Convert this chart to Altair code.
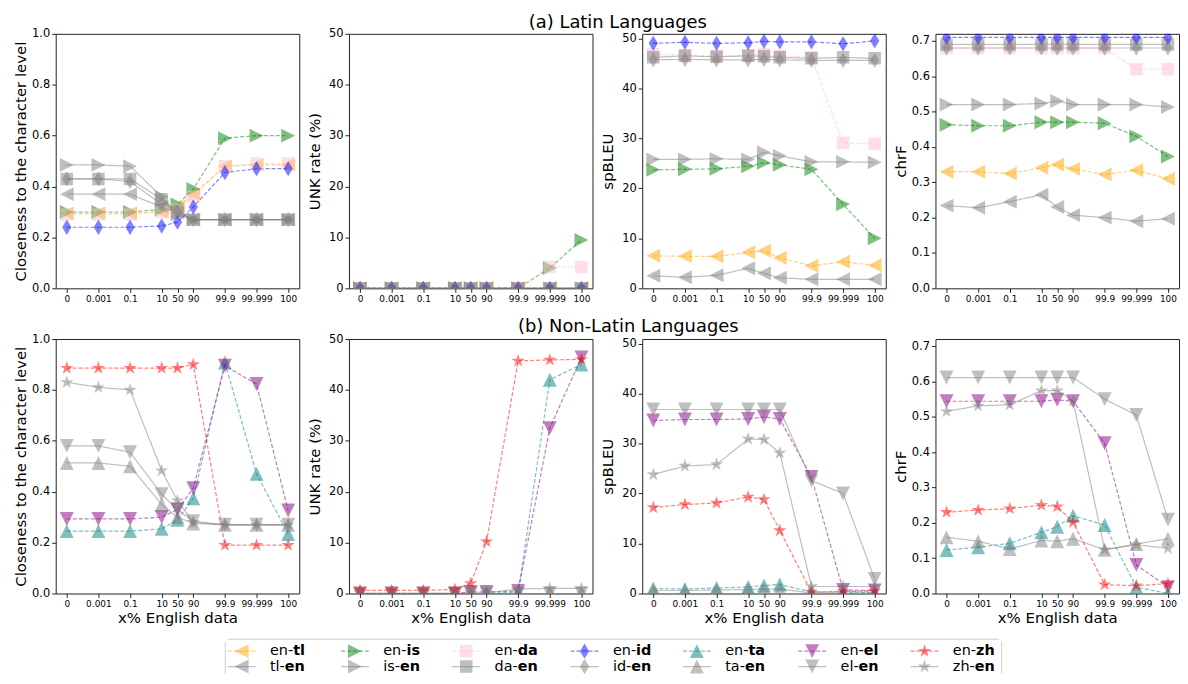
import math
import altair as alt
import pandas as pd

# ---------------- x axis ----------------
X_LABELS = ["0", "0.001", "0.1", "10", "50", "90", "99.9", "99.999", "100"]
X_POS = [0, 1, 2, 3, 3.5, 4, 5, 6, 7]

# ---------------- (a) Latin: closeness ----------------
a_close_en_tl = [0.295, 0.295, 0.295, 0.30, 0.32, 0.37, 0.48, 0.485, 0.485]
a_close_tl_en = [0.37, 0.37, 0.37, 0.32, 0.30, 0.27, 0.27, 0.27, 0.27]
a_close_en_is = [0.30, 0.30, 0.30, 0.31, 0.33, 0.39, 0.59, 0.60, 0.60]
a_close_is_en = [0.485, 0.485, 0.48, 0.36, 0.29, 0.27, 0.27, 0.27, 0.27]
a_close_en_da = [0.29, 0.29, 0.29, 0.30, 0.31, 0.36, 0.48, 0.49, 0.49]
a_close_da_en = [0.43, 0.43, 0.43, 0.35, 0.30, 0.27, 0.27, 0.27, 0.27]
a_close_en_id = [0.24, 0.24, 0.24, 0.245, 0.26, 0.32, 0.455, 0.47, 0.47]
a_close_id_en = [0.43, 0.43, 0.42, 0.33, 0.30, 0.27, 0.27, 0.27, 0.27]

# ---------------- (a) Latin: UNK rate ----------------
a_unk_en_tl = [0, 0, 0, 0, 0, 0, 0, 0, 0]
a_unk_tl_en = [0, 0, 0, 0, 0, 0, 0, 0, 0]
a_unk_en_is = [0, 0, 0, 0, 0, 0, 0, 4.0, 9.5]
a_unk_is_en = [0, 0, 0, 0, 0, 0, 0, 0, 0]
a_unk_en_da = [0, 0, 0, 0, 0, 0, 0, 4.2, 4.2]
a_unk_da_en = [0, 0, 0, 0, 0, 0, 0, 0, 0]
a_unk_en_id = [0, 0, 0, 0, 0, 0, 0, 0, 0]
a_unk_id_en = [0, 0, 0, 0, 0, 0, 0, 0, 0]

# ---------------- (a) Latin: spBLEU ----------------
a_bleu_en_tl = [6.5, 6.4, 6.4, 7.2, 7.5, 6.1, 4.5, 5.3, 4.6]
a_bleu_tl_en = [2.5, 2.2, 2.6, 4.0, 3.0, 2.1, 1.8, 1.8, 1.8]
a_bleu_en_is = [23.7, 23.8, 23.9, 24.4, 25.1, 24.7, 23.8, 16.8, 10.0]
a_bleu_is_en = [25.8, 25.8, 25.9, 25.8, 27.2, 26.5, 25.3, 25.3, 25.2]
a_bleu_en_da = [46.8, 46.6, 46.5, 46.6, 46.8, 46.5, 46.2, 29.1, 28.9]
a_bleu_da_en = [46.2, 46.5, 46.3, 46.5, 46.4, 46.2, 46.0, 46.2, 46.0]
a_bleu_en_id = [49.0, 49.2, 49.0, 49.1, 49.4, 49.3, 49.3, 48.9, 49.5]
a_bleu_id_en = [45.7, 45.8, 45.7, 45.7, 45.8, 45.7, 45.6, 45.6, 45.6]

# ---------------- (a) Latin: chrF ----------------
a_chrf_en_tl = [0.33, 0.33, 0.325, 0.341, 0.35, 0.338, 0.322, 0.334, 0.31]
a_chrf_tl_en = [0.234, 0.228, 0.245, 0.265, 0.23, 0.207, 0.2, 0.19, 0.197]
a_chrf_en_is = [0.463, 0.46, 0.46, 0.47, 0.47, 0.47, 0.467, 0.43, 0.373]
a_chrf_is_en = [0.52, 0.52, 0.52, 0.523, 0.53, 0.52, 0.52, 0.52, 0.513]
a_chrf_en_da = [0.68, 0.68, 0.68, 0.68, 0.68, 0.68, 0.68, 0.62, 0.62]
a_chrf_da_en = [0.69, 0.69, 0.69, 0.69, 0.69, 0.69, 0.69, 0.69, 0.69]
a_chrf_en_id = [0.71, 0.71, 0.71, 0.71, 0.71, 0.71, 0.71, 0.71, 0.71]
a_chrf_id_en = [0.68, 0.68, 0.68, 0.68, 0.68, 0.68, 0.68, 0.68, 0.68]

# ---------------- (b) Non-Latin: closeness ----------------
b_close_en_ta = [0.245, 0.245, 0.245, 0.254, 0.29, 0.374, 0.908, 0.47, 0.234]
b_close_ta_en = [0.513, 0.513, 0.50, 0.35, 0.30, 0.275, 0.27, 0.27, 0.27]
b_close_en_el = [0.293, 0.293, 0.293, 0.30, 0.33, 0.414, 0.895, 0.823, 0.326]
b_close_el_en = [0.58, 0.58, 0.555, 0.39, 0.33, 0.284, 0.27, 0.27, 0.27]
b_close_en_zh = [0.886, 0.886, 0.886, 0.886, 0.886, 0.90, 0.19, 0.19, 0.19]
b_close_zh_en = [0.83, 0.81, 0.80, 0.483, 0.365, 0.28, 0.27, 0.27, 0.27]

# ---------------- (b) Non-Latin: UNK rate ----------------
b_unk_en_ta = [0, 0, 0, 0, 0, 0, 0.3, 42.0, 45.0]
b_unk_ta_en = [0, 0, 0, 0, 0, 0, 0, 0, 0]
b_unk_en_el = [0, 0, 0, 0, 0.3, 0.3, 0.5, 32.5, 46.4]
b_unk_el_en = [0, 0, 0, 0, 0, 0, 0, 0, 0]
b_unk_en_zh = [0.6, 0.6, 0.6, 0.8, 2.0, 10.2, 45.7, 45.9, 46.0]
b_unk_zh_en = [0.1, 0.1, 0.1, 0.1, 0.1, 0.1, 0.9, 1.0, 1.0]

# ---------------- (b) Non-Latin: spBLEU ----------------
b_bleu_en_ta = [1.0, 0.9, 1.1, 1.3, 1.6, 1.8, 0.3, 0.3, 0.2]
b_bleu_ta_en = [0.6, 0.6, 0.7, 0.8, 0.9, 0.9, 0.1, 0.1, 0.1]
b_bleu_en_el = [34.6, 34.8, 34.8, 34.9, 35.3, 34.9, 23.3, 0.7, 0.6]
b_bleu_el_en = [36.8, 36.8, 36.8, 36.8, 36.8, 36.8, 22.6, 20.0, 2.9]
b_bleu_en_zh = [17.2, 17.8, 18.1, 19.3, 18.8, 12.6, 0.3, 0.4, 0.5]
b_bleu_zh_en = [23.8, 25.5, 25.8, 30.9, 30.8, 28.1, 1.4, 1.4, 1.4]

# ---------------- (b) Non-Latin: chrF ----------------
b_chrf_en_ta = [0.123, 0.131, 0.142, 0.173, 0.189, 0.22, 0.194, 0.018, 0.0]
b_chrf_ta_en = [0.159, 0.148, 0.126, 0.15, 0.148, 0.155, 0.124, 0.14, 0.155]
b_chrf_en_el = [0.544, 0.544, 0.544, 0.544, 0.548, 0.544, 0.425, 0.081, 0.018]
b_chrf_el_en = [0.611, 0.611, 0.611, 0.611, 0.611, 0.611, 0.55, 0.505, 0.209]
b_chrf_en_zh = [0.23, 0.236, 0.24, 0.25, 0.246, 0.202, 0.025, 0.022, 0.028]
b_chrf_zh_en = [0.515, 0.531, 0.534, 0.574, 0.574, 0.545, 0.124, 0.138, 0.128]

# ---------------- y axis ticks ----------------
TICKS_CLOSE = [0.0, 0.2, 0.4, 0.6, 0.8, 1.0]
TICKS_UNK = [0, 10, 20, 30, 40, 50]
TICKS_BLEU = [0, 10, 20, 30, 40, 50]
TICKS_CHRF = [0.0, 0.1, 0.2, 0.3, 0.4, 0.5, 0.6, 0.7]

TITLE_A = "(a) Latin Languages"
TITLE_B = "(b) Non-Latin Languages"
X_TITLE = "x% English data"

LATIN = ["tl", "is", "da", "id"]
NONLATIN = ["ta", "el", "zh"]
LANGS = LATIN + NONLATIN

PANEL_DATA = {
    "a_close": {"en-tl": a_close_en_tl, "tl-en": a_close_tl_en, "en-is": a_close_en_is, "is-en": a_close_is_en,
                "en-da": a_close_en_da, "da-en": a_close_da_en, "en-id": a_close_en_id, "id-en": a_close_id_en},
    "a_unk": {"en-tl": a_unk_en_tl, "tl-en": a_unk_tl_en, "en-is": a_unk_en_is, "is-en": a_unk_is_en,
              "en-da": a_unk_en_da, "da-en": a_unk_da_en, "en-id": a_unk_en_id, "id-en": a_unk_id_en},
    "a_bleu": {"en-tl": a_bleu_en_tl, "tl-en": a_bleu_tl_en, "en-is": a_bleu_en_is, "is-en": a_bleu_is_en,
               "en-da": a_bleu_en_da, "da-en": a_bleu_da_en, "en-id": a_bleu_en_id, "id-en": a_bleu_id_en},
    "a_chrf": {"en-tl": a_chrf_en_tl, "tl-en": a_chrf_tl_en, "en-is": a_chrf_en_is, "is-en": a_chrf_is_en,
               "en-da": a_chrf_en_da, "da-en": a_chrf_da_en, "en-id": a_chrf_en_id, "id-en": a_chrf_id_en},
    "b_close": {"en-ta": b_close_en_ta, "ta-en": b_close_ta_en, "en-el": b_close_en_el, "el-en": b_close_el_en,
                "en-zh": b_close_en_zh, "zh-en": b_close_zh_en},
    "b_unk": {"en-ta": b_unk_en_ta, "ta-en": b_unk_ta_en, "en-el": b_unk_en_el, "el-en": b_unk_el_en,
              "en-zh": b_unk_en_zh, "zh-en": b_unk_zh_en},
    "b_bleu": {"en-ta": b_bleu_en_ta, "ta-en": b_bleu_ta_en, "en-el": b_bleu_en_el, "el-en": b_bleu_el_en,
               "en-zh": b_bleu_en_zh, "zh-en": b_bleu_zh_en},
    "b_chrf": {"en-ta": b_chrf_en_ta, "ta-en": b_chrf_ta_en, "en-el": b_chrf_en_el, "el-en": b_chrf_el_en,
               "en-zh": b_chrf_en_zh, "zh-en": b_chrf_zh_en},
}

# ---------------- styles ----------------
LANG_COLOR = {"tl": "#FFA500", "is": "#008000", "da": "#FFC0CB", "id": "#0000FF",
              "ta": "#008080", "el": "#800080", "zh": "#FF0000"}
GRAY = "#808080"
FONT = "DejaVu Sans"


def star_path(n=5, inner=0.382):
    pts = []
    for k in range(2 * n):
        r = 1.0 if k % 2 == 0 else inner
        ang = math.radians(-90 + 36 * k)
        pts.append(f"{r * math.cos(ang):.3f},{r * math.sin(ang):.3f}")
    return "M" + "L".join(pts) + "Z"


LANG_SHAPE = {
    "tl": "M-1,0L1,-1L1,1Z",
    "is": "M1,0L-1,-1L-1,1Z",
    "da": "M-0.9,-0.9L0.9,-0.9L0.9,0.9L-0.9,0.9Z",
    "id": "M0,-1.1L0.66,0L0,1.1L-0.66,0Z",
    "ta": "M0,-1L1,1L-1,1Z",
    "el": "M0,1L1,-1L-1,-1Z",
    "zh": star_path(),
}
MARK_SIZE = 196

ALL_SERIES = []
for lg in LANGS:
    ALL_SERIES += [f"en-{lg}", f"{lg}-en"]


def lang_of(s):
    a, b = s.split("-")
    return b if a == "en" else a


color_scale = alt.Scale(domain=ALL_SERIES,
                        range=[LANG_COLOR[lang_of(s)] if s.startswith("en-") else GRAY for s in ALL_SERIES])
shape_scale = alt.Scale(domain=ALL_SERIES, range=[LANG_SHAPE[lang_of(s)] for s in ALL_SERIES])
dash_scale = alt.Scale(domain=ALL_SERIES, range=[[4, 2] if s.startswith("en-") else [1, 0] for s in ALL_SERIES])

rows = []
for pid, smap in PANEL_DATA.items():
    for s, vals in smap.items():
        for p, v in zip(X_POS, vals):
            rows.append({"panel": pid, "series": s, "pos": p, "value": v})
df = pd.DataFrame(rows)

lab_arr = []
for i in range(15):
    p = i / 2
    lab_arr.append(X_LABELS[X_POS.index(p)] if p in X_POS else "")
LABEL_EXPR = "[" + ",".join(f"'{s}'" for s in lab_arr) + "][round(datum.value*2)]"

PW, PH = 245, 256
PLOT_LEFT = 55  # page x of first plot area (origin for title / legend placement)


def panel(pid, ytitle, ydomain, yticks, yfmt, xtitle, title=None, title_x=0, title_y=0):
    d = df[df.panel == pid]
    x = alt.X("pos:Q", scale=alt.Scale(domain=[-0.35, 7.35], nice=False, zero=False),
              axis=alt.Axis(values=X_POS, labelExpr=LABEL_EXPR, title=xtitle, labelFontSize=9,
                            tickSize=4, labelPadding=2, titleFontSize=15, titlePadding=2.5,
                            labelOverlap=False, labelFlush=False, grid=False, domain=False,
                            tickColor="#222", labelColor="#000", titleColor="#000",
                            titleFontWeight="normal", labelFont=FONT, titleFont=FONT))
    y = alt.Y("value:Q", scale=alt.Scale(domain=ydomain, nice=False, zero=False),
              axis=alt.Axis(values=yticks, format=yfmt, title=ytitle, labelFontSize=11.5,
                            titleFontSize=15, titlePadding=3, minExtent=24, maxExtent=24,
                            tickSize=4, labelPadding=2, grid=False, domain=False,
                            tickColor="#222", labelColor="#000", titleColor="#000",
                            titleFontWeight="normal", labelFont=FONT, titleFont=FONT))
    color = alt.Color("series:N", scale=color_scale, legend=None)
    base = alt.Chart(d)
    lines = base.mark_line(opacity=0.5, strokeWidth=1.2, clip=True).encode(
        x=x, y=y, color=color,
        strokeDash=alt.StrokeDash("series:N", scale=dash_scale, legend=None))
    pts = base.mark_point(filled=True, opacity=0.5, strokeWidth=0, size=MARK_SIZE, clip=True).encode(
        x=x, y=y, color=color,
        shape=alt.Shape("series:N", scale=shape_scale, legend=None))
    layers = [lines, pts]
    if title:
        t = alt.Chart(pd.DataFrame({"t": [title]})).mark_text(
            align="center", baseline="alphabetic", fontSize=18, font=FONT, color="#000").encode(
            text="t:N", x=alt.value(title_x), y=alt.value(title_y))
        layers.append(t)
    return alt.layer(*layers).properties(width=PW, height=PH)


grid = alt.concat(
    panel("a_close", "Closeness to the character level", [0, 1], TICKS_CLOSE, ".1f", None,
          TITLE_A, 620.5 - PLOT_LEFT, -6),
    panel("a_unk", "UNK rate (%)", [0, 50], TICKS_UNK, "d", None),
    panel("a_bleu", "spBLEU", [0, 50.9], TICKS_BLEU, "d", None),
    panel("a_chrf", "chrF", [0, 0.72], TICKS_CHRF, ".1f", None),
    panel("b_close", "Closeness to the character level", [0, 1], TICKS_CLOSE, ".1f", X_TITLE,
          TITLE_B, 631 - PLOT_LEFT, -7),
    panel("b_unk", "UNK rate (%)", [0, 50], TICKS_UNK, "d", X_TITLE),
    panel("b_bleu", "spBLEU", [0, 50.9], TICKS_BLEU, "d", X_TITLE),
    panel("b_chrf", "chrF", [0, 0.72], TICKS_CHRF, ".1f", X_TITLE),
    columns=4, spacing={"row": 51, "column": 50}, bounds="flush",
)

# ---------------- legend (manual, to allow partly bold labels) ----------------
LEG_ORIGIN = PLOT_LEFT  # legend view is aligned with the grid origin
LEG_HANDLE_X = [242, 356, 468, 587, 700, 816, 929]  # page x of handle centres
LEG_ROW_Y = [12.5, 28]
LEG_FS = 14.5
LW, LH = 1000, 35
BOX_L, BOX_R = 225 - LEG_ORIGIN, 1007 - LEG_ORIGIN
EM = {"e": 0.615, "n": 0.634, "-": 0.361, "t": 0.392, "l": 0.278, "i": 0.278, "s": 0.521,
      "d": 0.635, "a": 0.613, "z": 0.525, "h": 0.634}


def text_w(s):
    return sum(EM[c] for c in s) * LEG_FS


leg = []
for c, lg in enumerate(LANGS):
    entries = [(f"en-{lg}", "en-", lg), (f"{lg}-en", f"{lg}-", "en")]
    for r, (s, pre, suf) in enumerate(entries):
        mx = LEG_HANDLE_X[c] - LEG_ORIGIN
        lx = mx + 28.5
        leg.append({"series": s, "mx": mx, "x0": mx - 14, "x1": mx + 14, "lx": lx,
                    "sx": lx + text_w(pre), "y": LEG_ROW_Y[r], "pre": pre, "suf": suf})
leg_df = pd.DataFrame(leg)

one = pd.DataFrame({"k": [0]})
box_top = alt.Chart(one).mark_rule(color="#d0d0d0", strokeWidth=1).encode(
    x=alt.value(BOX_L + 3), x2=alt.value(BOX_R - 3), y=alt.value(0.5))
box_left = alt.Chart(one).mark_rule(color="#d0d0d0", strokeWidth=1).encode(
    x=alt.value(BOX_L + 0.5), y=alt.value(3), y2=alt.value(LH))
box_right = alt.Chart(one).mark_rule(color="#d0d0d0", strokeWidth=1).encode(
    x=alt.value(BOX_R - 0.5), y=alt.value(3), y2=alt.value(LH))
lb = alt.Chart(leg_df)
lcolor = alt.Color("series:N", scale=color_scale, legend=None)
l_rule = lb.mark_rule(strokeWidth=1.2, opacity=0.5).encode(
    x=alt.X("x0:Q", scale=None), x2="x1:Q", y=alt.Y("y:Q", scale=None), color=lcolor,
    strokeDash=alt.StrokeDash("series:N", scale=dash_scale, legend=None))
l_pts = lb.mark_point(filled=True, opacity=0.5, strokeWidth=0, size=MARK_SIZE).encode(
    x=alt.X("mx:Q", scale=None), y=alt.Y("y:Q", scale=None), color=lcolor,
    shape=alt.Shape("series:N", scale=shape_scale, legend=None))
l_pre = lb.mark_text(align="left", baseline="middle", fontSize=LEG_FS, font=FONT, color="#000").encode(
    x=alt.X("lx:Q", scale=None), y=alt.Y("y:Q", scale=None), text="pre:N")
l_suf = lb.mark_text(align="left", baseline="middle", fontSize=LEG_FS, font=FONT, fontWeight="bold",
                     color="#000").encode(
    x=alt.X("sx:Q", scale=None), y=alt.Y("y:Q", scale=None), text="suf:N")
legend = alt.layer(box_top, box_left, box_right, l_rule, l_pts, l_pre, l_suf).properties(
    width=LW, height=LH, view=alt.ViewBackground(stroke="transparent"))

chart = alt.vconcat(grid, legend, spacing=11.5).properties(
    padding={"left": 5, "top": 3, "right": 0, "bottom": 0}
).configure(font=FONT).configure_view(stroke="#222", strokeWidth=1)

chart.save("out.html", embed_options={"renderer": "svg", "actions": False})
